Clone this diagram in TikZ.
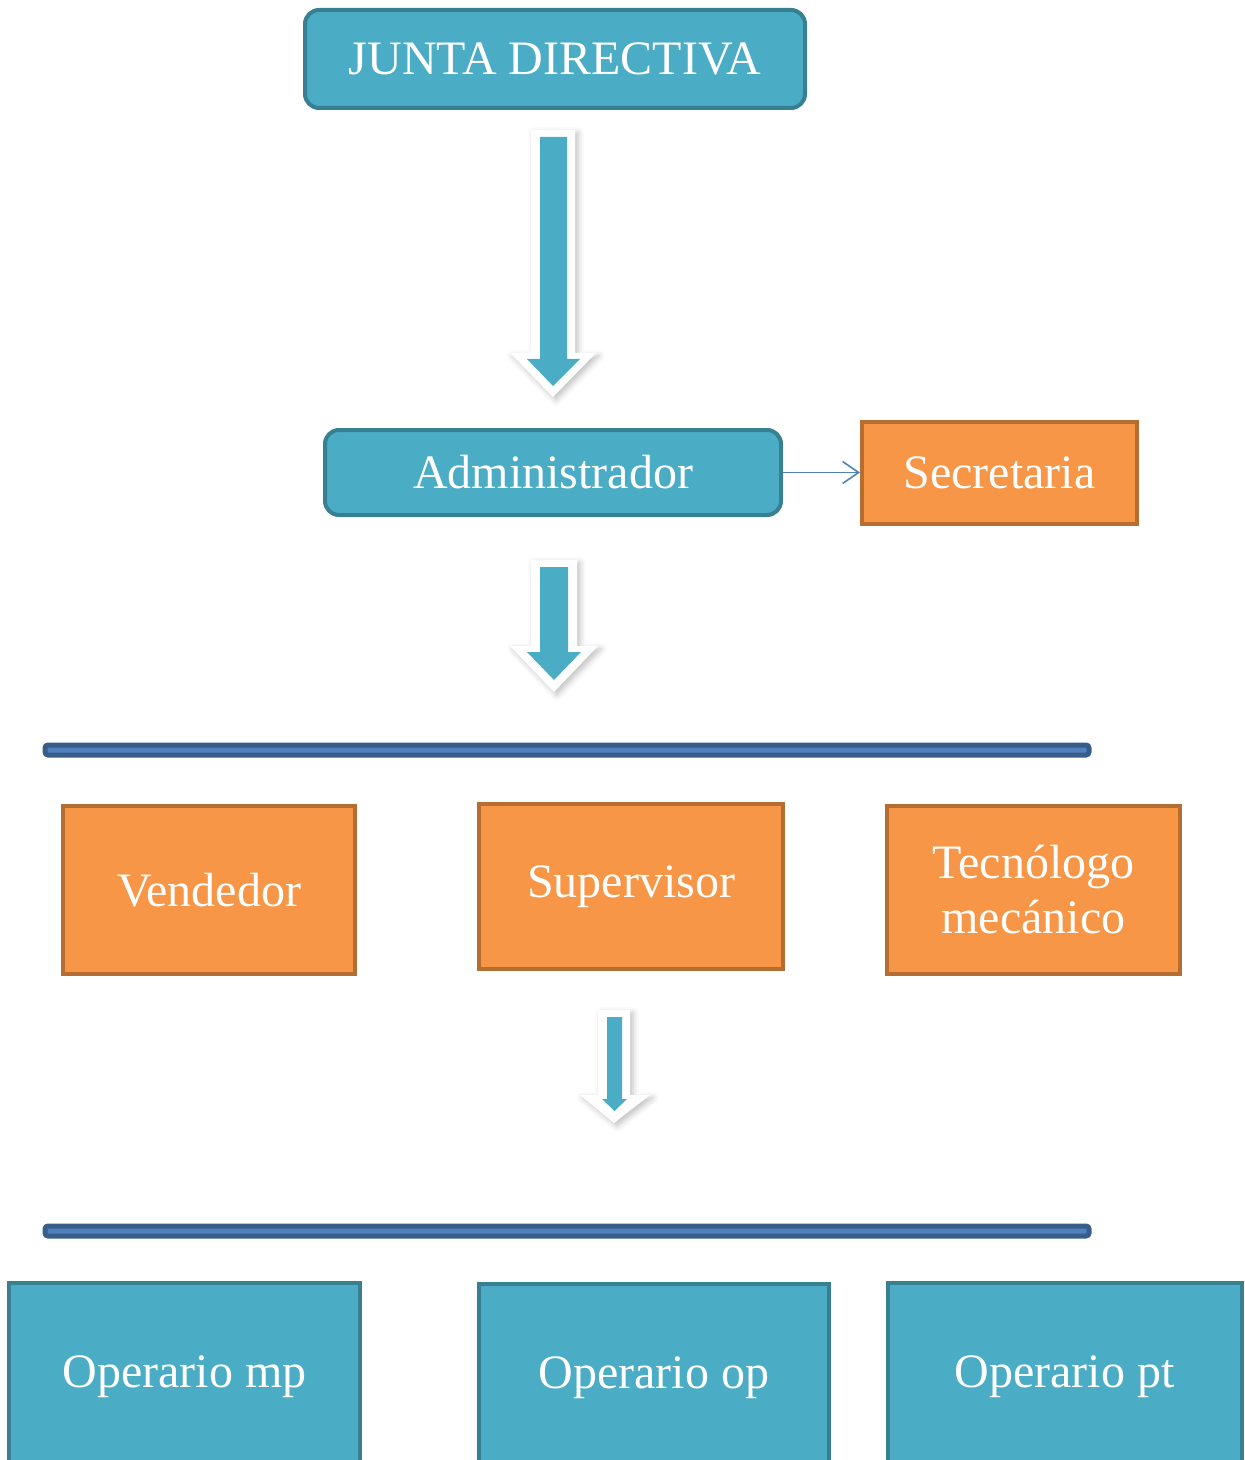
\documentclass[tikz,border=0pt]{standalone}
\usepackage{fontspec}
\setmainfont{Liberation Serif}
\usetikzlibrary{arrows.meta,shadows.blur}

\definecolor{tealfill}{HTML}{4BACC6}
\definecolor{tealedge}{HTML}{387F92}
\definecolor{orgfill}{HTML}{F79646}
\definecolor{orgedge}{HTML}{B66D31}
\definecolor{barfill}{HTML}{4F81BD}
\definecolor{baredge}{HTML}{385D8A}
\definecolor{linkblue}{HTML}{4F81BD}

\begin{document}
\begin{tikzpicture}[x=0.5pt,y=-0.5pt,
  boxtext/.style={text=white, align=center, inner sep=0pt,
    font=\fontsize{24}{27.5}\selectfont},
  tealbox/.style={boxtext, draw=tealedge, fill=tealfill, line width=2pt},
  roundbox/.style={tealbox, rounded corners=7pt},
  orangebox/.style={boxtext, draw=orgedge, fill=orgfill, line width=2pt},
  arrowrim/.style={fill=white, draw=none,
    blur shadow={shadow xshift=1.5pt, shadow yshift=-1.5pt,
      shadow blur radius=3pt, shadow opacity=25}},
  arrowcore/.style={fill=tealfill, draw=none},
  levelbar/.style={fill=barfill, draw=baredge, line width=2.5pt, rounded corners=1.5pt},
  link/.style={draw=linkblue, line width=0.8pt,
    -{Straight Barb[length=8pt,width=11pt,line width=0.8pt]}}
]
\useasboundingbox (0,0) rectangle (1244,1460);
\clip (0,0) rectangle (1244,1460);

% top level
\node[roundbox, minimum width=250pt, minimum height=49pt] (junta) at (555,59) {JUNTA DIRECTIVA};

% arrow: junta -> administrador
\path[arrowrim] (531,130) -- (575,130) -- (575,353) -- (596,353) -- (553,397)
  -- (510,353) -- (531,353) -- cycle;
\path[arrowcore] (540,137) -- (567,137) -- (567,359) -- (580,359) -- (553,386)
  -- (527,359) -- (540,359) -- cycle;

% second level
\node[roundbox, minimum width=228pt, minimum height=42.5pt] (adm) at (553,472.5) {Administrador};
\node[orangebox, minimum width=137.5pt, minimum height=51pt] (sec) at (999.5,472.5) {Secretaria};
\draw[link] (adm.east) -- (sec.west);

% arrow: administrador -> staff
\path[arrowrim] (531,560) -- (577,560) -- (577,646) -- (598,646) -- (554,692)
  -- (510,646) -- (531,646) -- cycle;
\path[arrowcore] (540,567) -- (568,567) -- (568,652) -- (581,652) -- (554,680)
  -- (527,652) -- (540,652) -- cycle;

% staff level
\path[levelbar] (45,745) rectangle (1089,755);
\node[orangebox, minimum width=146pt, minimum height=84pt] (ven) at (209,890) {Vendedor};
\node[orangebox, minimum width=152pt, minimum height=82.5pt] (sup) at (631,886.5) {Supervisor};
\node[orangebox, minimum width=146.5pt, minimum height=84pt] (tec) at (1033.5,890) {Tecnólogo\\mecánico};

% arrow: staff -> operators
\path[arrowrim] (598,1010) -- (630,1010) -- (630,1095) -- (650,1095) -- (614,1123)
  -- (580,1095) -- (598,1095) -- cycle;
\path[arrowcore] (607,1017) -- (622,1017) -- (622,1099) -- (627,1099) -- (614.5,1111)
  -- (602,1099) -- (607,1099) -- cycle;

% operator level
\path[levelbar] (45,1226) rectangle (1089,1236);
\node[tealbox, minimum width=175.5pt, minimum height=94pt] (omp) at (184.5,1377) {Operario mp};
\node[tealbox, minimum width=175pt, minimum height=94pt] (oop) at (654,1378) {Operario op};
\node[tealbox, minimum width=177pt, minimum height=94pt] (opt) at (1064.5,1377) {Operario pt};
\end{tikzpicture}
\end{document}
